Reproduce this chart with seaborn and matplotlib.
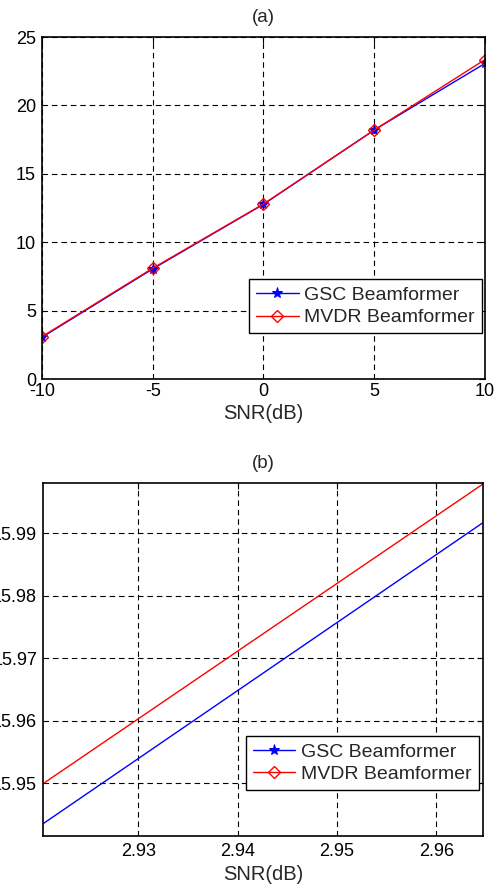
import matplotlib
matplotlib.use("Agg")
import matplotlib.pyplot as plt
import seaborn as sns

# SNR values and output SINR for both beamformers
snr = [-10, -5, 0, 5, 10]
gsc = [3.05, 8.05, 12.772, 18.202, 23.07]
mvdr = [3.10, 8.10, 12.793, 18.198, 23.35]

top_xticks = [-10, -5, 0, 5, 10]
top_yticks = [0, 5, 10, 15, 20, 25]
zoom_xticks = [2.93, 2.94, 2.95, 2.96]
zoom_yticks = [15.95, 15.96, 15.97, 15.98, 15.99]

sns.set_style("white")
plt.rcParams["font.family"] = ["Liberation Sans", "DejaVu Sans"]

fig = plt.figure(figsize=(5.02, 8.84), dpi=100)
ax1 = fig.add_axes([42 / 502, 1 - 379 / 884, 443 / 502, 342 / 884])
ax2 = fig.add_axes([43 / 502, 1 - 836 / 884, 440 / 502, 353 / 884])

fs = 13      # tick labels
lbfs = 14.5  # axis labels
tfs = 13.5   # titles
lfs = 14     # legend


def draw(ax):
    sns.lineplot(x=snr, y=gsc, ax=ax, color="blue", linewidth=1,
                 marker="*", markersize=8, markeredgecolor="blue",
                 label="GSC Beamformer")
    sns.lineplot(x=snr, y=mvdr, ax=ax, color="red", linewidth=1,
                 marker="D", markersize=6, markerfacecolor="none",
                 markeredgecolor="red", markeredgewidth=1,
                 label="MVDR Beamformer")
    ax.grid(True, color="k", linestyle=(0, (5, 3.5)), linewidth=0.8)
    ax.tick_params(direction="in", top=True, right=True, length=4,
                   width=0.8, labelsize=fs, colors="k")
    ax.tick_params(axis="y", pad=4.3)
    for s in ax.spines.values():
        s.set_visible(True)
        s.set_color("k")
        s.set_linewidth(1.2)


def legend(ax, anchor):
    leg = ax.legend(loc="lower right", bbox_to_anchor=anchor,
                    fontsize=lfs, fancybox=False, edgecolor="k",
                    framealpha=1, handlelength=2.2, handletextpad=0.3,
                    borderpad=0.35, labelspacing=0.25, borderaxespad=0)
    leg.get_frame().set_linewidth(1)


draw(ax1)
ax1.set_xlim(-10, 10)
ax1.set_ylim(0, 25)
ax1.set_xticks(top_xticks)
ax1.set_xticklabels([str(t) for t in top_xticks])
ax1.set_yticks(top_yticks)
ax1.tick_params(axis="x", pad=3)
ax1.set_xlabel("SNR(dB)", fontsize=lbfs, labelpad=3)
ax1.set_title("(a)", fontsize=tfs, pad=11)
legend(ax1, (0.993, 0.134))

draw(ax2)
ax2.set_xlim(2.9204, 2.9647)
ax2.set_ylim(15.9416, 15.998)
ax2.set_xticks(zoom_xticks)
ax2.set_xticklabels([f"{t:.2f}" for t in zoom_xticks])
ax2.set_yticks(zoom_yticks)
ax2.set_yticklabels([f"{t:.2f}" for t in zoom_yticks])
ax2.tick_params(axis="x", pad=5)
ax2.set_xlabel("SNR(dB)", fontsize=lbfs, labelpad=4)
ax2.set_title("(b)", fontsize=tfs, pad=10.5)
legend(ax2, (0.99, 0.13))

fig.savefig("out.png", dpi=100)
